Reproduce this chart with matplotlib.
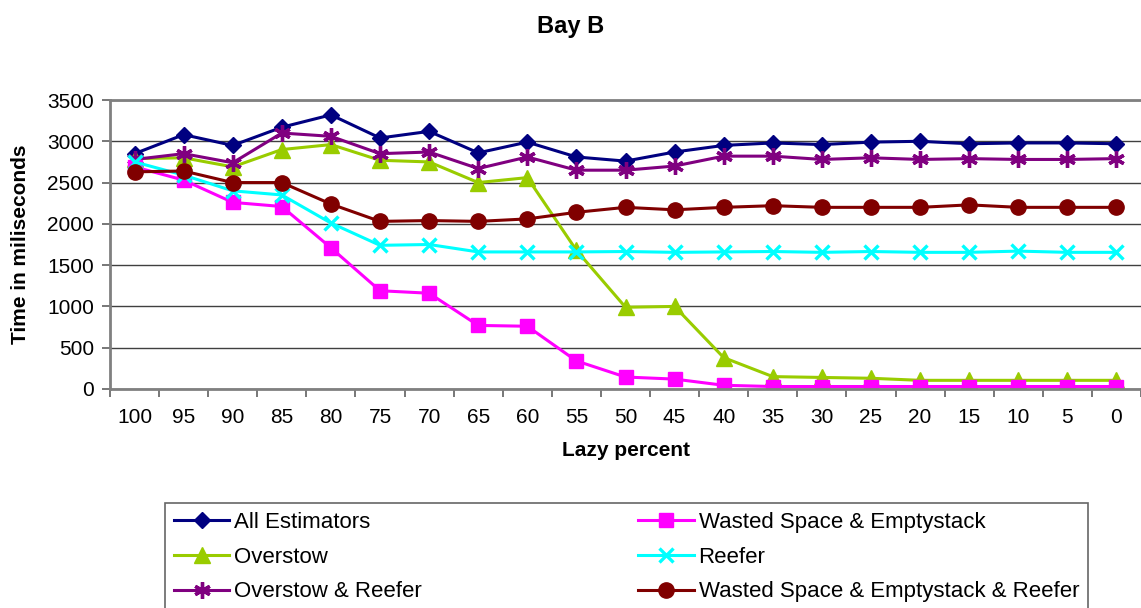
import numpy as np
import matplotlib
matplotlib.use("Agg")
import matplotlib.pyplot as plt

plt.rcParams['font.family'] = ['Liberation Sans', 'DejaVu Sans']

lazy_percent = [100, 95, 90, 85, 80, 75, 70, 65, 60, 55, 50,
                45, 40, 35, 30, 25, 20, 15, 10, 5, 0]

all_estimators = [2850, 3080, 2950, 3170, 3320, 3040, 3120, 2860, 2990, 2810, 2760,
                  2870, 2950, 2980, 2960, 2990, 3000, 2970, 2980, 2980, 2970]
wasted_space = [2690, 2530, 2260, 2210, 1710, 1190, 1160, 770, 760, 340, 145,
                120, 45, 30, 30, 30, 30, 30, 30, 30, 30]
overstow = [2790, 2800, 2690, 2900, 2960, 2770, 2750, 2500, 2560, 1680, 990,
            1000, 380, 150, 140, 130, 105, 105, 105, 105, 105]
reefer = [2750, 2590, 2400, 2350, 2010, 1740, 1750, 1660, 1660, 1660, 1665,
          1655, 1660, 1665, 1655, 1665, 1655, 1655, 1670, 1655, 1655]
overstow_reefer = [2780, 2850, 2740, 3100, 3060, 2850, 2870, 2670, 2810, 2650, 2650,
                   2700, 2820, 2820, 2780, 2800, 2780, 2790, 2780, 2780, 2790]
wasted_reefer = [2630, 2640, 2500, 2500, 2240, 2030, 2040, 2030, 2060, 2140, 2200,
                 2170, 2200, 2220, 2200, 2200, 2200, 2230, 2200, 2200, 2200]

# legend fills column-wise: left column first, then right column
series = [
    ("All Estimators", all_estimators, "#000080", dict(marker="D", markersize=8.5)),
    ("Overstow", overstow, "#99CC00", dict(marker="^", markersize=11)),
    ("Overstow & Reefer", overstow_reefer, "#800080",
     dict(marker=(6, 2, 0), markersize=12, markeredgewidth=2.4)),
    ("Wasted Space & Emptystack", wasted_space, "#FF00FF", dict(marker="s", markersize=10)),
    ("Reefer", reefer, "#00FFFF", dict(marker="x", markersize=10, markeredgewidth=2.4)),
    ("Wasted Space & Emptystack & Reefer", wasted_reefer, "#800000",
     dict(marker="o", markersize=11)),
]

fig = plt.figure(figsize=(11.41, 6.08), dpi=100)
ax = fig.add_axes([110 / 1141, 1 - 389 / 608, 1 - 110 / 1141, (389 - 100) / 608])

x = np.arange(len(lazy_percent))
for name, vals, color, mk in series:
    ax.plot(x, vals, color=color, lw=2.2, label=name,
            markerfacecolor=color, markeredgecolor=color, **mk)

ax.set_ylim(0, 3500)
ax.set_yticks(np.arange(0, 3501, 500))
ax.yaxis.grid(True, color="#404040", lw=1)
ax.set_axisbelow(True)

ax.set_xlim(-0.5, len(lazy_percent) - 0.5)
ax.set_xticks(np.arange(-0.5, len(lazy_percent), 1))
ax.set_xticklabels([])
ax.set_xticks(x, minor=True)
ax.set_xticklabels([str(v) for v in lazy_percent], minor=True)
ax.tick_params(axis="x", which="major", length=5.5, width=1.2, color="#606060",
               direction="out")
ax.tick_params(axis="x", which="minor", length=0, pad=14, labelsize=15)
ax.tick_params(axis="y", length=5.5, width=1.2, color="#606060", pad=6, labelsize=15)

ax.spines["right"].set_visible(False)
for side in ("top", "left", "bottom"):
    ax.spines[side].set_color("#808080")
    ax.spines[side].set_linewidth(2)

ax.set_xlabel("Lazy percent", fontsize=15, fontweight="bold", labelpad=10)
ax.set_ylabel("Time in miliseconds", fontsize=15, fontweight="bold", labelpad=12)
fig.text(0.5, 1 - 26 / 608, "Bay B", ha="center", va="center",
         fontsize=17, fontweight="bold")

leg = fig.legend(loc="upper left", ncol=2, mode="expand",
                 bbox_to_anchor=(165 / 1141, 0, (1088 - 165) / 1141, 1 - 503 / 608),
                 frameon=True, fancybox=False, edgecolor="#404040", fontsize=16,
                 handlelength=2.5, handletextpad=0.22, borderpad=0.4,
                 labelspacing=0.62, borderaxespad=0)
leg.get_frame().set_linewidth(1.2)

fig.savefig("out.png", dpi=100)
